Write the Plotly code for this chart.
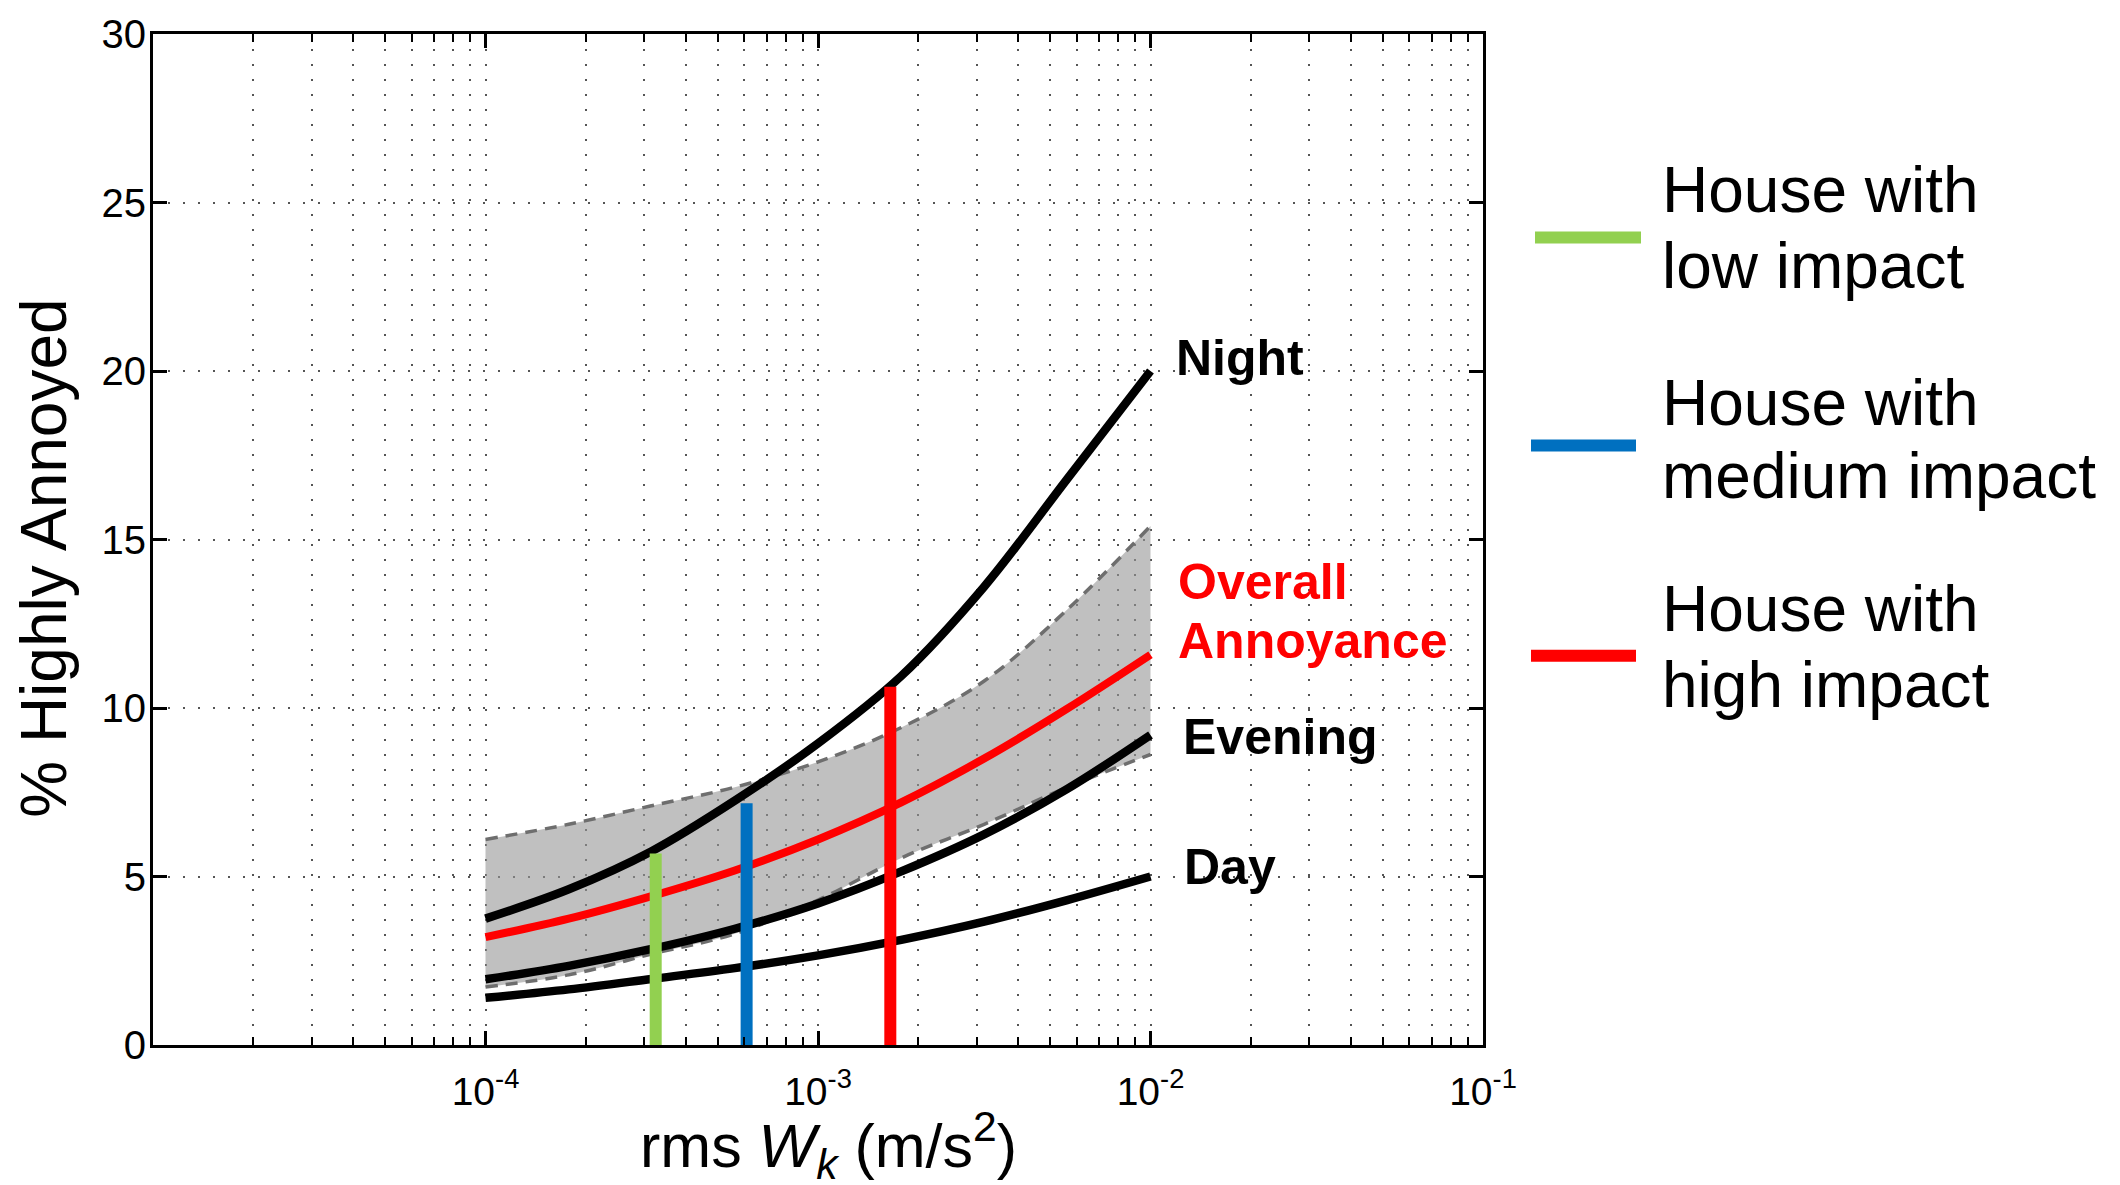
import plotly.graph_objects as go

# ---- data -------------------------------------------------------------
# rms Wk (m/s^2) sample positions of the exposure-response curves
wk = [1.0e-4, 1.78e-4, 3.16e-4, 5.62e-4, 1.0e-3, 1.78e-3, 3.16e-3, 5.62e-3, 1.0e-2]

# % highly annoyed, by period of the day
night = [3.75, 4.62, 5.75, 7.25, 8.95, 10.95, 13.6, 16.8, 20.0]
evening = [1.95, 2.35, 2.85, 3.45, 4.2, 5.15, 6.25, 7.6, 9.2]
day = [1.4, 1.65, 1.96, 2.28, 2.66, 3.12, 3.66, 4.3, 5.0]

# overall annoyance with its confidence band
overall = [3.2, 3.75, 4.42, 5.18, 6.1, 7.2, 8.5, 9.98, 11.58]
overall_upper = [6.1, 6.55, 7.1, 7.65, 8.4, 9.42, 10.8, 12.92, 15.4]
overall_lower = [1.72, 2.08, 2.7, 3.3, 4.3, 5.55, 6.55, 7.65, 8.62]

# example houses: exposure and predicted % highly annoyed
house_lines = [("House with", "low impact"), ("House with", "medium impact"), ("House with", "high impact")]
house_wk = [3.25e-4, 6.1e-4, 1.65e-3]
house_ha = [5.68, 7.17, 10.63]
house_colors = ["#92d050", "#0070c0", "#ff0000"]

# axis ticks
y_ticks = [0, 5, 10, 15, 20, 25, 30]
x_major = [1e-5, 1e-4, 1e-3, 1e-2, 1e-1]
x_major_text = ["", "10<sup>-4</sup>", "10<sup>-3</sup>", "10<sup>-2</sup>", "10<sup>-1</sup>"]
x_minor = [m * d for d in (1e-5, 1e-4, 1e-3, 1e-2) for m in range(2, 10)]

# ---- layout geometry (pixels) ----------------------------------------
FIG_W, FIG_H = 2120, 1185
L, T, PW, PH = 153, 24, 1330, 1021
FONT = "Liberation Sans, Arial, Helvetica, sans-serif"


def px(x):
    return (x - L) / PW


def py(y):
    return (T + PH - y) / PH


fig = go.Figure()

# confidence band of overall annoyance
fig.add_trace(go.Scatter(x=wk, y=overall_lower, mode="lines", line=dict(width=0, shape="spline"),
                         hoverinfo="skip", showlegend=False))
fig.add_trace(go.Scatter(x=wk, y=overall_upper, mode="lines", line=dict(width=0, shape="spline"),
                         fill="tonexty", fillcolor="rgba(150,150,150,0.6)",
                         hoverinfo="skip", showlegend=False))
for edge in (overall_lower, overall_upper):
    fig.add_trace(go.Scatter(x=wk, y=edge, mode="lines",
                             line=dict(color="#6e6e6e", width=3.5, dash="12px,8px", shape="spline"),
                             showlegend=False))

# period curves
for series in (day, evening, night):
    fig.add_trace(go.Scatter(x=wk, y=series, mode="lines",
                             line=dict(color="black", width=8.5, shape="spline"), showlegend=False))
fig.add_trace(go.Scatter(x=wk, y=overall, mode="lines",
                         line=dict(color="#ff0000", width=8, shape="spline"), showlegend=False))

# house markers
for (l1, l2), hx, hy, col in zip(house_lines, house_wk, house_ha, house_colors):
    fig.add_trace(go.Scatter(x=[hx, hx], y=[0, hy], mode="lines", name=f"{l1} {l2}",
                             line=dict(color=col, width=12), showlegend=False))

grid = dict(gridcolor="#555555", gridwidth=2, griddash="2px,13px")

fig.update_xaxes(
    type="log", range=[-5, -1],
    tickmode="array", tickvals=x_major, ticktext=x_major_text,
    ticks="inside", ticklen=14, tickwidth=2.5, tickcolor="black",
    showline=True, linecolor="black", linewidth=3, mirror="ticks",
    showgrid=True, **grid,
    minor=dict(tickmode="array", tickvals=x_minor, ticks="inside", ticklen=8,
               tickwidth=2, tickcolor="black", showgrid=True, **grid),
    tickfont=dict(family=FONT, size=39, color="black"),
    ticklabelstandoff=10,
    zeroline=False,
)
fig.update_yaxes(
    range=[0, 30], tickmode="array", tickvals=y_ticks,
    ticks="inside", ticklen=14, tickwidth=2.5, tickcolor="black",
    showline=True, linecolor="black", linewidth=3, mirror="ticks",
    showgrid=True, **grid,
    tickfont=dict(family=FONT, size=40, color="black"),
    ticklabelstandoff=-4,
    zeroline=False,
)


def label(text, x, y_mid, size, color="black", **kw):
    """Single-line text placed by the pixel centre of its capitals."""
    return dict(text=text, x=px(x), y=py(y_mid - 0.09 * size), xanchor="left", yanchor="middle",
                font=dict(family=FONT, size=size, color=color), **kw)


annotations = [
    # axis titles
    dict(text="rms <i>W</i><sub><i>k</i></sub> (m/s<sup>2</sup>)", x=px(828), y=py(1146),
         xanchor="center", yanchor="middle", font=dict(family=FONT, size=61, color="black")),
    dict(text="% Highly Annoyed", x=px(44), y=py(554), textangle=-90,
         xanchor="center", yanchor="middle", font=dict(family=FONT, size=64, color="black")),
    # curve labels
    label("<b>Night</b>", 1174, 356, 50),
    label("<b>Overall</b>", 1176, 582, 50, "#ff0000"),
    label("<b>Annoyance</b>", 1176, 642, 50, "#ff0000"),
    label("<b>Evening</b>", 1181, 738, 50),
    label("<b>Day</b>", 1182, 870, 50),
]

# legend for the houses
legend_rows = [(1535, 1641, 229.5, 187, 264), (1531, 1636, 439.5, 402, 476), (1531, 1636, 651.8, 610, 687)]
shapes = []
for (x0, x1, ly, t1, t2), (l1, l2), col in zip(legend_rows, house_lines, house_colors):
    shapes.append(dict(type="line", xref="paper", yref="paper", x0=px(x0), x1=px(x1),
                       y0=py(ly), y1=py(ly), line=dict(color=col, width=12)))
    annotations.append(label(l1, 1660, t1, 64))
    annotations.append(label(l2, 1660, t2, 64))

for a in annotations:
    a.setdefault("xref", "paper")
    a.setdefault("yref", "paper")
    a.setdefault("showarrow", False)

fig.update_layout(
    width=FIG_W, height=FIG_H,
    margin=dict(l=L, r=FIG_W - L - PW, t=T, b=FIG_H - T - PH, pad=0),
    paper_bgcolor="white", plot_bgcolor="white",
    showlegend=False,
    annotations=annotations, shapes=shapes,
    font=dict(family=FONT),
)

fig.write_html("out.html")
